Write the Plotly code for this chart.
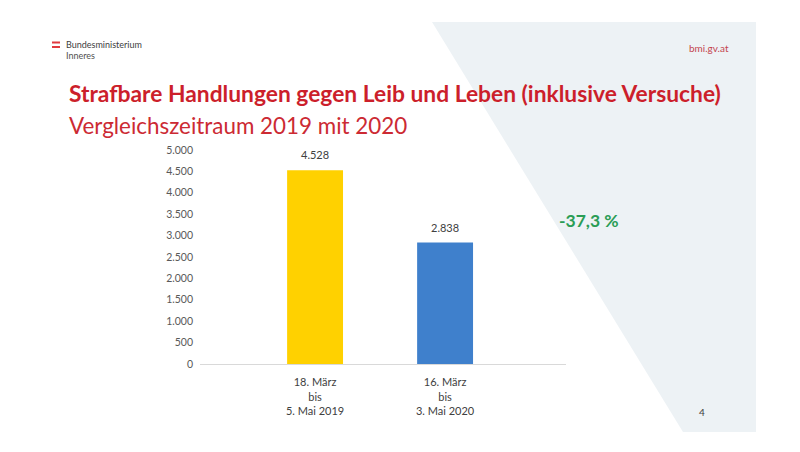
import plotly.graph_objects as go

W, H = 800, 452

categories = ["18. März<br>bis<br>5. Mai 2019", "16. März<br>bis<br>3. Mai 2020"]
values = [4528, 2838]
bar_colors = ["#FFD100", "#3F80CC"]
y_ticks = [0, 500, 1000, 1500, 2000, 2500, 3000, 3500, 4000, 4500, 5000]

title = "Strafbare Handlungen gegen Leib und Leben (inklusive Versuche)"
subtitle = "Vergleichszeitraum 2019 mit 2020"
change_label = "-37,3 %"

def px(x):
    return x / W

def py(y):
    return 1 - y / H

fig = go.Figure()
fig.add_trace(go.Bar(
    x=categories, y=values,
    marker=dict(color=bar_colors, line=dict(width=0)),
    width=0.43,
    cliponaxis=False, hoverinfo="skip",
))

shapes = [
    dict(type="path", xref="paper", yref="paper", layer="below",
         path=f"M {px(432)} {py(22)} L {px(756)} {py(22)} L {px(756)} {py(432)} L {px(683)} {py(432)} Z",
         fillcolor="#EDF2F5", line=dict(width=0)),
    dict(type="rect", xref="paper", yref="paper", x0=px(52), x1=px(60), y0=py(43.5), y1=py(41.5),
         fillcolor="#E03A3E", line=dict(width=0)),
    dict(type="rect", xref="paper", yref="paper", x0=px(52), x1=px(60), y0=py(48), y1=py(46),
         fillcolor="#E03A3E", line=dict(width=0)),
]

annotations = [
    dict(text="Bundesministerium", x=px(64), y=py(44), xanchor="left", yanchor="middle",
         font=dict(family="Lato", size=9, color="#404040")),
    dict(text="Inneres", x=px(64), y=py(56), xanchor="left", yanchor="middle",
         font=dict(family="Lato", size=9, color="#505050")),
    dict(text="bmi.gv.at", x=px(731), y=py(48), xanchor="right", yanchor="middle",
         font=dict(family="Lato", size=10, color="#C4454F")),
    dict(text=f"<b>{title}</b>", x=px(67), y=py(93), xanchor="left", yanchor="middle",
         font=dict(family="Lato", size=22.8, color="#CC1F2B")),
    dict(text=subtitle, x=px(67), y=py(125), xanchor="left", yanchor="middle",
         font=dict(family="Lato", size=22.4, color="#CC2A33")),
    dict(text=f"<b>{change_label}</b>", x=px(557), y=py(220), xanchor="left", yanchor="middle",
         font=dict(family="Lato", size=17.5, color="#2A9D55")),
    dict(text="4", x=px(702), y=py(412), xanchor="center", yanchor="middle",
         font=dict(family="Lato", size=10, color="#404040")),
]
for a in annotations:
    a.update(xref="paper", yref="paper", showarrow=False)

# value labels above bars, positioned via the data axes
for c, v in zip(categories, values):
    annotations.append(dict(
        x=c, y=v, xref="x", yref="y", text=f"{v:,}".replace(",", "."),
        showarrow=False, yanchor="bottom", yshift=7,
        font=dict(family="Lato", size=11, color="#404040"),
    ))

fig.update_layout(
    width=W, height=H,
    margin=dict(l=0, r=0, t=0, b=0),
    paper_bgcolor="white", plot_bgcolor="rgba(0,0,0,0)",
    separators=",.",
    showlegend=False,
    shapes=shapes, annotations=annotations,
    xaxis=dict(domain=[px(200), px(566)], range=[-0.885, 1.93],
               showgrid=False, zeroline=False, showline=True, linecolor="#D9D9D9", linewidth=1,
               ticks="", tickfont=dict(family="Lato", size=11, color="#404040"),
               automargin=False, ticklabelstandoff=8),
    yaxis=dict(domain=[py(364), py(150)], range=[0, 5000],
               tickvals=y_ticks, tickformat=",d",
               showgrid=False, zeroline=False, showline=False, ticks="",
               tickfont=dict(family="Lato", size=10.5, color="#595959"),
               automargin=False, ticklabelstandoff=6),
)

fig.write_html("out.html")
